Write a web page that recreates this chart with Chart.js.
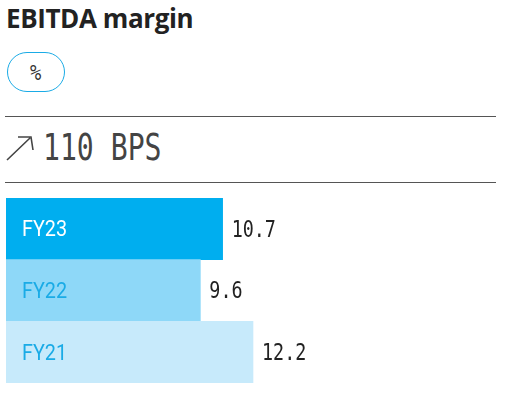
<!DOCTYPE html>
<html>
<head>
<meta charset="utf-8">
<script src="https://cdn.jsdelivr.net/npm/chart.js@4.4.1/dist/chart.umd.min.js"></script>
<style>
  html, body { margin: 0; padding: 0; background: #fff; }
  body { width: 505px; height: 393px; position: relative; overflow: hidden; }
  .title { position: absolute; left: 6px; top: 0px; font: 700 26px "Open Sans", sans-serif; color: #222; letter-spacing: -0.4px; }
  .pill { position: absolute; left: 7px; top: 52px; width: 56px; height: 38px; border: 1.5px solid #1aabe6; border-radius: 20px; box-sizing: content-box; text-align: center; font: 22px "DejaVu Sans Mono", monospace; line-height: 40px; color: #333; }
  .pill span { display: inline-block; transform: scaleX(0.85); }
  .rule { position: absolute; left: 5px; width: 491px; height: 0; border-top: 1.5px solid #555; }
  .delta { position: absolute; left: 43px; top: 126px; font: 37px "DejaVu Sans Mono", monospace; color: #444; transform: scaleX(0.76); transform-origin: left; white-space: nowrap; }
  .arrow { position: absolute; left: 6px; top: 134px; }
  #wrap { position: absolute; left: 6px; top: 198px; width: 494px; height: 185px; }
</style>
</head>
<body>
<div class="title">EBITDA margin</div>
<div class="pill"><span>%</span></div>
<div class="rule" style="top:116px"></div>
<svg class="arrow" width="28" height="28" viewBox="0 0 28 28">
  <path d="M1 26 L24 4 M12 3 L25 3 L27 16" fill="none" stroke="#444" stroke-width="1.6"/>
</svg>
<div class="delta">110 BPS</div>
<div class="rule" style="top:182px"></div>
<div id="wrap"><canvas id="chart"></canvas></div>
<script>
// ====== DATA ======
const years = ["FY23", "FY22", "FY21"];
const margins = [10.7, 9.6, 12.2];
const barColors = ["#00aeef", "#8ed8f8", "#c7eafb"];
const labelColors = ["#ffffff", "#1aabe6", "#1aabe6"];

// ====== LABEL PLUGIN ======
const barLabels = {
  id: "barLabels",
  afterDatasetsDraw(chart) {
    const ctx = chart.ctx;
    const meta = chart.getDatasetMeta(0);
    meta.data.forEach((bar, i) => {
      ctx.save();
      ctx.textBaseline = "middle";
      // category inside the bar
      ctx.fillStyle = labelColors[i];
      ctx.font = "22px Roboto, sans-serif";
      ctx.translate(bar.base + 16, bar.y + 2);
      ctx.scale(0.9, 1);
      ctx.fillText(years[i], 0, 0);
      ctx.restore();

      // value after the bar
      ctx.save();
      ctx.textBaseline = "middle";
      ctx.fillStyle = "#222";
      ctx.font = "23px 'DejaVu Sans Mono', monospace";
      ctx.translate(bar.x + 9, bar.y + 2);
      ctx.scale(0.8, 1);
      ctx.fillText(margins[i].toFixed(1), 0, 0);
      ctx.restore();
    });
  },
};

new Chart(document.getElementById("chart"), {
  type: "bar",
  data: {
    labels: years,
    datasets: [{
      data: margins,
      backgroundColor: barColors,
      borderWidth: 0,
      barPercentage: 1,
      categoryPercentage: 1,
    }],
  },
  options: {
    indexAxis: "y",
    responsive: true,
    maintainAspectRatio: false,
    animation: false,
    layout: { padding: 0 },
    plugins: { legend: { display: false }, tooltip: { enabled: false } },
    scales: {
      x: { display: false, min: 0, max: 24.4 },
      y: { display: false },
    },
  },
  plugins: [barLabels],
});
</script>
</body>
</html>
